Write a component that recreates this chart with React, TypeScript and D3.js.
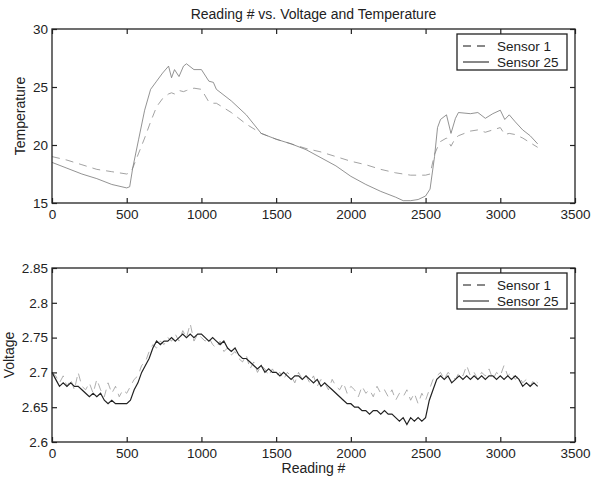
import React, { useEffect, useRef } from 'react';
import * as d3 from 'd3';

// reading # vs temperature / voltage, two sensors

const title = 'Reading # vs. Voltage and Temperature';
const seriesNames = ['Sensor 1', 'Sensor 25'];

const tempReadings = [0, 100, 200, 300, 400, 500, 520, 540, 580, 620, 660, 700, 740, 780, 800, 820, 850, 880, 900, 950,
  1000, 1050, 1080, 1100, 1200, 1300, 1400, 1500, 1600, 1700, 1800, 1900, 2000, 2100, 2200, 2300, 2350, 2400, 2450,
  2500, 2530, 2560, 2580, 2600, 2640, 2670, 2700, 2720, 2800, 2850, 2900, 2950, 3000, 3030, 3060, 3100, 3150, 3200, 3250];
const tempSensor1 = [19.0, 18.7, 18.3, 17.9, 17.7, 17.5, 17.6, 18.0, 19.3, 20.6, 22.0, 23.3, 24.0, 24.4, 24.5, 24.4, 24.7, 24.6, 24.7, 24.9,
  24.8, 23.7, 23.6, 23.6, 22.8, 21.8, 21.0, 20.5, 20.1, 19.7, 19.4, 19.0, 18.6, 18.3, 17.9, 17.6, 17.5, 17.4, 17.4,
  17.4, 17.5, 19.2, 19.8, 20.3, 20.6, 19.9, 20.6, 20.8, 21.2, 21.3, 21.1, 21.3, 21.5, 20.9, 21.0, 20.9, 20.6, 20.2, 19.8];
const tempSensor25 = [18.5, 18.0, 17.5, 17.1, 16.6, 16.3, 16.4, 18.0, 20.5, 23.0, 24.8, 25.5, 26.2, 26.8, 25.8, 26.5, 25.9, 26.8, 27.0, 26.5,
  26.5, 25.5, 25.4, 24.8, 23.8, 22.6, 21.0, 20.5, 20.1, 19.6, 18.9, 18.2, 17.3, 16.6, 16.0, 15.5, 15.2, 15.2, 15.3,
  15.6, 16.2, 19.0, 21.5, 22.2, 22.6, 21.0, 22.3, 22.8, 22.7, 22.8, 22.3, 22.7, 23.0, 22.2, 22.6, 22.0, 21.3, 20.8, 20.1];

// voltage sampled every 25 readings, 0..3250
const voltReadings = d3.range(0, 3251, 25);
const voltSensor1 = [
  2.70, 2.695, 2.685, 2.695, 2.68, 2.69, 2.675, 2.70, 2.68, 2.675,
  2.685, 2.67, 2.69, 2.675, 2.665, 2.685, 2.67, 2.68, 2.665, 2.675,
  2.67, 2.68, 2.69, 2.695, 2.71, 2.715, 2.73, 2.74, 2.735, 2.745,
  2.74, 2.75, 2.745, 2.755, 2.745, 2.76, 2.75, 2.77, 2.745, 2.755,
  2.75, 2.745, 2.75, 2.74, 2.735, 2.745, 2.73, 2.735, 2.725, 2.73,
  2.72, 2.715, 2.725, 2.705, 2.715, 2.70, 2.71, 2.705, 2.695, 2.705,
  2.695, 2.70, 2.69, 2.70, 2.695, 2.685, 2.70, 2.69, 2.695, 2.685,
  2.695, 2.68, 2.69, 2.685, 2.675, 2.69, 2.68, 2.675, 2.685, 2.67,
  2.68, 2.675, 2.665, 2.68, 2.67, 2.675, 2.665, 2.68, 2.67, 2.675,
  2.665, 2.675, 2.66, 2.67, 2.665, 2.675, 2.66, 2.67, 2.655, 2.67,
  2.66, 2.675, 2.69, 2.695, 2.70, 2.69, 2.70, 2.695, 2.69, 2.70,
  2.695, 2.71, 2.695, 2.70, 2.69, 2.70, 2.695, 2.705, 2.69, 2.70,
  2.695, 2.71, 2.695, 2.70, 2.69, 2.695, 2.685, 2.69, 2.68, 2.69,
  2.685];
const voltSensor25 = [
  2.70, 2.69, 2.68, 2.685, 2.68, 2.685, 2.68, 2.68, 2.675, 2.67,
  2.665, 2.67, 2.665, 2.67, 2.66, 2.655, 2.66, 2.655, 2.655, 2.655,
  2.655, 2.66, 2.675, 2.685, 2.70, 2.71, 2.72, 2.735, 2.745, 2.74,
  2.745, 2.745, 2.75, 2.745, 2.75, 2.755, 2.75, 2.755, 2.75, 2.755,
  2.755, 2.75, 2.745, 2.75, 2.745, 2.74, 2.745, 2.735, 2.73, 2.735,
  2.725, 2.72, 2.72, 2.715, 2.71, 2.705, 2.71, 2.70, 2.705, 2.70,
  2.70, 2.695, 2.70, 2.695, 2.69, 2.695, 2.695, 2.69, 2.695, 2.69,
  2.685, 2.69, 2.68, 2.685, 2.68, 2.675, 2.67, 2.665, 2.66, 2.655,
  2.655, 2.65, 2.65, 2.645, 2.645, 2.64, 2.645, 2.645, 2.64, 2.645,
  2.64, 2.64, 2.635, 2.63, 2.635, 2.625, 2.635, 2.63, 2.635, 2.63,
  2.635, 2.66, 2.675, 2.69, 2.695, 2.69, 2.695, 2.685, 2.69, 2.695,
  2.69, 2.695, 2.69, 2.695, 2.69, 2.695, 2.69, 2.695, 2.695, 2.69,
  2.695, 2.69, 2.695, 2.69, 2.695, 2.69, 2.68, 2.685, 2.68, 2.685,
  2.68];

const xTicks = [0, 500, 1000, 1500, 2000, 2500, 3000, 3500];
const tempTicks = [15, 20, 25, 30];
const voltTicks = [2.6, 2.65, 2.7, 2.75, 2.8, 2.85];

export default function App() {
  const ref = useRef(null);

  useEffect(() => {
    const svg = d3.select(ref.current);
    svg.selectAll('*').remove();

    const left = 52, right = 575;
    const font = '"Liberation Sans", Arial, sans-serif';
    const x = d3.scaleLinear().domain([0, 3500]).range([left, right]);

    const panel = (top, bottom, yDomain, yTicks, yFmt, readings, s1, s25, label, labelX, legendY, c1, c25, w25) => {
      const y = d3.scaleLinear().domain(yDomain).range([bottom, top]);
      const g = svg.append('g');

      const line = d3.line().x((d) => x(d[0])).y((d) => y(d[1]));
      g.append('path')
        .datum(readings.map((r, i) => [r, s1[i]]))
        .attr('d', line)
        .attr('fill', 'none')
        .attr('stroke', c1)
        .attr('stroke-width', 0.8)
        .attr('stroke-dasharray', '8,6');
      g.append('path')
        .datum(readings.map((r, i) => [r, s25[i]]))
        .attr('d', line)
        .attr('fill', 'none')
        .attr('stroke', c25)
        .attr('stroke-width', w25);

      // axes, ticks inward on all four sides
      const bottomAxis = g.append('g').attr('transform', 'translate(0,' + bottom + ')')
        .call(d3.axisBottom(x).tickValues(xTicks).tickSize(-5).tickPadding(6).tickFormat(d3.format('d')));
      g.append('g').attr('transform', 'translate(0,' + top + ')')
        .call(d3.axisTop(x).tickValues(xTicks).tickSize(-5).tickFormat(() => ''));
      const leftAxis = g.append('g').attr('transform', 'translate(' + left + ',0)')
        .call(d3.axisLeft(y).tickValues(yTicks).tickSize(-5).tickPadding(4).tickFormat(yFmt));
      g.append('g').attr('transform', 'translate(' + right + ',0)')
        .call(d3.axisRight(y).tickValues(yTicks).tickSize(-5).tickFormat(() => ''));
      g.selectAll('.domain').remove();
      g.selectAll('.tick line').attr('stroke', '#222').attr('stroke-width', 1.2);
      [bottomAxis, leftAxis].forEach((a) => a.selectAll('text')
        .attr('font-family', font).attr('font-size', 13.5).attr('fill', '#222'));

      g.append('rect')
        .attr('x', left).attr('y', top)
        .attr('width', right - left).attr('height', bottom - top)
        .attr('fill', 'none').attr('stroke', '#222').attr('stroke-width', 1.3);

      g.append('text')
        .attr('transform', 'translate(' + labelX + ',' + (top + bottom) / 2 + ') rotate(-90)')
        .attr('text-anchor', 'middle')
        .attr('font-family', font).attr('font-size', 14).attr('fill', '#222')
        .text(label);

      // legend
      const lg = g.append('g').attr('transform', 'translate(457,' + legendY + ')');
      lg.append('rect').attr('width', 110).attr('height', 36)
        .attr('fill', '#fff').attr('stroke', '#222').attr('stroke-width', 1.3);
      seriesNames.forEach((name, i) => {
        const ly = 12 + i * 16;
        lg.append('line').attr('x1', 6).attr('x2', 32).attr('y1', ly).attr('y2', ly)
          .attr('stroke', '#111').attr('stroke-width', 1)
          .attr('stroke-dasharray', i === 0 ? '8,6' : null);
        lg.append('text').attr('x', 40).attr('y', ly).attr('dy', '0.35em')
          .attr('font-family', font).attr('font-size', 13.5).attr('fill', '#222')
          .text(name);
      });
    };

    panel(29, 203, [15, 30], tempTicks, d3.format('d'), tempReadings, tempSensor1, tempSensor25,
      'Temperature', 25, 34, '#8a8a8a', '#777', 0.8);
    panel(268, 442, [2.6, 2.85], voltTicks, (d) => String(+d.toFixed(2)), voltReadings, voltSensor1, voltSensor25,
      'Voltage', 14, 273, '#999', '#222', 1.2);

    svg.append('text')
      .attr('x', (left + right) / 2).attr('y', 19)
      .attr('text-anchor', 'middle')
      .attr('font-family', font).attr('font-size', 14).attr('fill', '#222')
      .text(title);
    svg.append('text')
      .attr('x', (left + right) / 2).attr('y', 473)
      .attr('text-anchor', 'middle')
      .attr('font-family', font).attr('font-size', 14).attr('fill', '#222')
      .text('Reading #');
  }, []);

  return (
    <svg ref={ref} width={592} height={479}
      style={{ position: 'absolute', left: 0, top: 0, background: '#fff' }} />
  );
}
